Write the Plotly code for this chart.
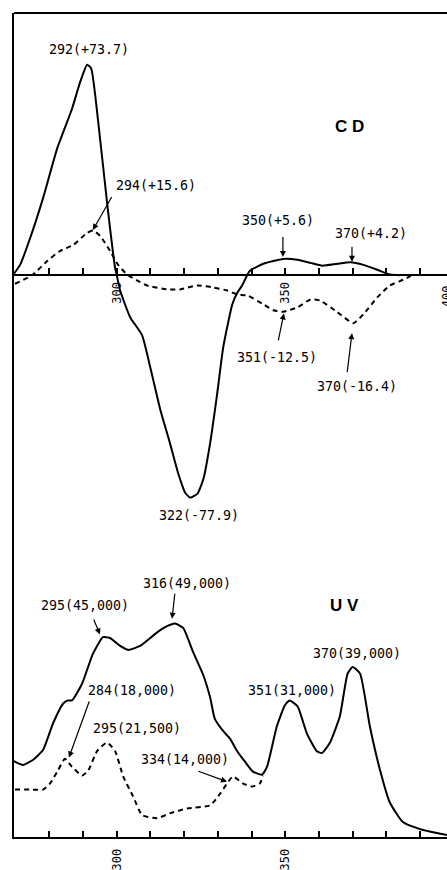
import plotly.graph_objects as go

# ---------------- data ----------------
# CD spectrum, solid curve
cd_solid_wl = [269.5, 271.3, 274.3, 278.1, 282.3, 286.7, 289.1, 291.2, 292.4, 294.5,
               297.2, 299.5, 300.0, 301.0, 304.0, 307.5, 309.9, 312.9, 315.8, 318.2,
               320.3, 321.8, 323.9, 325.7, 327.7, 329.8, 331.6, 334.3, 335.8, 337.2,
               338.7, 339.6, 343.5, 349.4, 353.6, 357.5, 361.0, 365.5, 369.3, 373.2,
               377.3, 381.1, 384.1]
cd_solid_val = [0.5, 3.6, 13.0, 26.9, 44.3, 58.2, 67.5, 73.7, 72.4, 53.6,
                24.5, 2.6, 0.0, -5.4, -14.8, -21.0, -32.1, -47.0, -58.9, -69.3,
                -76.2, -77.9, -76.6, -71.4, -58.9, -41.5, -25.2, -10.2, -6.1, -3.6,
                0.0, 1.6, 4.0, 5.7, 5.4, 4.3, 3.3, 4.0, 4.5, 3.6,
                1.9, 0.2, 0.0]

# CD spectrum, dashed curve
cd_dash_wl = [269.8, 274.9, 279.4, 283.2, 287.1, 291.2, 293.0, 295.1, 298.0, 300.4,
              303.1, 306.1, 309.0, 315.0, 318.8, 323.9, 328.6, 332.8, 335.8, 338.7,
              343.5, 346.5, 349.4, 353.6, 357.5, 360.4, 365.5, 370.2, 373.2, 377.3,
              381.1, 385.0, 387.7]
cd_dash_val = [-3.0, 0.0, 5.0, 8.5, 10.6, 14.8, 15.6, 13.7, 8.5, 3.6,
               0.2, -1.9, -3.6, -5.0, -5.0, -3.6, -4.3, -5.4, -6.8, -7.1,
               -10.2, -12.3, -12.8, -11.3, -8.5, -8.9, -13.0, -16.8, -13.7, -7.8,
               -3.6, -1.6, 0.0]

# UV spectrum, solid curve
uv_solid_wl = [269.5, 272.2, 275.2, 278.1, 281.1, 284.1, 285.5, 286.7, 289.7, 292.9,
               295.9, 298.0, 301.0, 303.4, 306.9, 312.0, 314.9, 317.3, 319.7, 322.6,
               325.6, 327.7, 329.1, 331.5, 333.6, 335.7, 338.0, 340.4, 343.1, 344.6,
               347.5, 349.9, 351.3, 353.7, 356.4, 359.3, 360.8, 363.2, 366.2, 368.5,
               370.0, 372.2, 375.1, 378.1, 381.0, 384.9, 390.0, 395.0, 398.0]
uv_solid_val = [17300, 16400, 17600, 19800, 25900, 30400, 31100, 31100, 34900, 41700,
                45500, 45300, 43500, 42600, 43500, 46600, 48000, 48600, 47600, 42200,
                37000, 31800, 26900, 24200, 22400, 19600, 17200, 14900, 14200, 16000,
                25200, 30000, 31100, 29700, 23600, 19600, 19100, 21400, 27500, 37200,
                38700, 37200, 25200, 15300, 7900, 3400, 1800, 900, 450]

# UV spectrum, dashed curve
uv_dash_wl = [269.8, 274.3, 278.1, 280.2, 282.5, 284.6, 286.7, 289.7, 291.5, 294.2,
              297.1, 299.5, 301.9, 304.8, 307.5, 312.0, 315.8, 320.9, 327.7, 330.7,
              333.1, 334.5, 337.4, 340.1, 342.5, 343.3]
uv_dash_val = [10800, 10800, 10800, 12200, 15100, 17800, 16000, 14000, 15100, 19600,
               21500, 19600, 13800, 9300, 5000, 4300, 5400, 6500, 7200, 9900,
               12600, 13800, 12200, 11500, 12200, 14000]

# axis ticks
tick_vals = [280, 290, 300, 310, 320, 330, 340, 350, 360, 370, 380, 390, 400]
labelled_ticks = [300, 350, 400]
tick_text = [str(v) if v in labelled_ticks else "" for v in tick_vals]

# peak labels: (text, wavelength, value) for plain labels
cd_labels = [("292(+73.7)", 291.8, 79.0), ("322(-77.9)", 324.4, -84.2)]
uv_labels = [("295(21,500)", 306.0, 24600), ("351(31,000)", 352.0, 33400),
             ("370(39,000)", 371.3, 41800)]
# labels with arrows: (text, text_wl, text_val, head_wl, head_val, tail dx, tail dy)
cd_arrow_labels = [
    ("294(+15.6)", 311.6, 31.4, 292.9, 15.8, 20, -35),
    ("350(+5.6)", 347.8, 19.2, 349.3, 6.4, 0, -22),
    ("370(+4.2)", 375.4, 14.7, 369.8, 4.7, 0, -17),
    ("351(-12.5)", 347.5, -28.7, 349.6, -13.4, -6, 29),
    ("370(-16.4)", 371.3, -39.1, 369.8, -20.3, -5, 41),
]
uv_arrow_labels = [
    ("316(49,000)", 320.8, 57800, 316.4, 49700, 3, -27),
    ("295(45,000)", 290.6, 52600, 295.0, 46100, -7, -17),
    ("284(18,000)", 304.5, 33400, 285.8, 18100, 21, -58),
    ("334(14,000)", 320.2, 17600, 332.7, 12600, -30, -11),
]
panel_titles = [("C D", 369.2, 52.2, "y"), ("U V", 367.7, 52800, "y2")]

# ---------------- figure ----------------
X_RANGE = [269.5, 398.0]
CD_RANGE = [-87.7, 91.8]
UV_RANGE = [0, 70900]
SPLIT = 0.3779
MONO = "DejaVu Sans Mono"
INK = "black"
LABEL_SIZE = 13.3

fig = go.Figure()
fig.add_trace(go.Scatter(x=cd_solid_wl, y=cd_solid_val, mode="lines",
                         line=dict(color=INK, width=2, shape="spline", smoothing=0.5),
                         xaxis="x", yaxis="y"))
fig.add_trace(go.Scatter(x=cd_dash_wl, y=cd_dash_val, mode="lines",
                         line=dict(color=INK, width=2, dash="5px,4px", shape="spline", smoothing=0.5),
                         xaxis="x", yaxis="y"))
fig.add_trace(go.Scatter(x=uv_solid_wl, y=uv_solid_val, mode="lines",
                         line=dict(color=INK, width=2, shape="spline", smoothing=0.5),
                         xaxis="x2", yaxis="y2"))
fig.add_trace(go.Scatter(x=uv_dash_wl, y=uv_dash_val, mode="lines",
                         line=dict(color=INK, width=2, dash="5px,4px", shape="spline", smoothing=0.5),
                         xaxis="x2", yaxis="y2"))

# position of the CD zero line in paper coordinates
zero_pos = SPLIT + (0 - CD_RANGE[0]) / (CD_RANGE[1] - CD_RANGE[0]) * (1 - SPLIT)

xcommon = dict(range=X_RANGE, showline=True, linewidth=2, linecolor=INK,
               ticks="inside", ticklen=6, tickwidth=1.5, tickcolor=INK,
               tickmode="array", tickvals=tick_vals, ticktext=tick_text,
               tickangle=-90, tickfont=dict(family=MONO, size=12, color=INK),
               showgrid=False, zeroline=False, domain=[0, 1])
ycommon = dict(showline=True, linewidth=2, linecolor=INK, ticks="",
               showticklabels=False, showgrid=False, zeroline=False)

annotations = []
for txt, xw, yv in cd_labels:
    annotations.append(dict(text=txt, x=xw, y=yv, xref="x", yref="y", showarrow=False,
                            font=dict(family=MONO, size=LABEL_SIZE, color=INK)))
for txt, xw, yv in uv_labels:
    annotations.append(dict(text=txt, x=xw, y=yv, xref="x2", yref="y2", showarrow=False,
                            font=dict(family=MONO, size=LABEL_SIZE, color=INK)))
for group, xr, yr in ((cd_arrow_labels, "x", "y"), (uv_arrow_labels, "x2", "y2")):
    for txt, tx, ty, hx, hy, dx, dy in group:
        annotations.append(dict(text=txt, x=tx, y=ty, xref=xr, yref=yr, showarrow=False,
                                font=dict(family=MONO, size=LABEL_SIZE, color=INK)))
        annotations.append(dict(text=" ", x=hx, y=hy, xref=xr, yref=yr, showarrow=True,
                                ax=dx, ay=dy, arrowhead=2, arrowsize=1.0, arrowwidth=1.2,
                                arrowcolor=INK, font=dict(size=1)))
for txt, xw, yv, yr in panel_titles:
    annotations.append(dict(text="<b>" + txt + "</b>", x=xw, y=yv,
                            xref="x" if yr == "y" else "x2", yref=yr, showarrow=False,
                            font=dict(family="Liberation Sans", size=17, color=INK)))
# the 400 label of the CD axis sits at the very right edge (cut off, as in the reference)
annotations.append(dict(text="400", x=1, y=zero_pos, xref="paper", yref="paper", yshift=-8,
                        showarrow=False, textangle=-90, yanchor="top", xanchor="center",
                        font=dict(family=MONO, size=12, color=INK)))

fig.update_layout(
    width=447, height=870,
    margin=dict(l=14, r=0, t=13, b=26, pad=0),
    paper_bgcolor="white", plot_bgcolor="white",
    showlegend=False,
    xaxis=dict(**xcommon, anchor="free", position=zero_pos, ticklabelstandoff=1),
    yaxis=dict(**ycommon, range=CD_RANGE, domain=[SPLIT, 1]),
    xaxis2=dict(**xcommon, anchor="y2", ticklabelstandoff=5),
    yaxis2=dict(**ycommon, range=UV_RANGE, domain=[0, SPLIT]),
    annotations=annotations,
    shapes=[dict(type="line", xref="paper", yref="paper", x0=0, x1=1, y0=1, y1=1,
                 line=dict(color=INK, width=2))],
)

# remove the default page margin so the 447x870 figure fills the window exactly
fig.write_html("out.html", config={"displayModeBar": False},
               post_script="document.body.style.margin='0px';"
                           "document.body.style.overflow='hidden';")
